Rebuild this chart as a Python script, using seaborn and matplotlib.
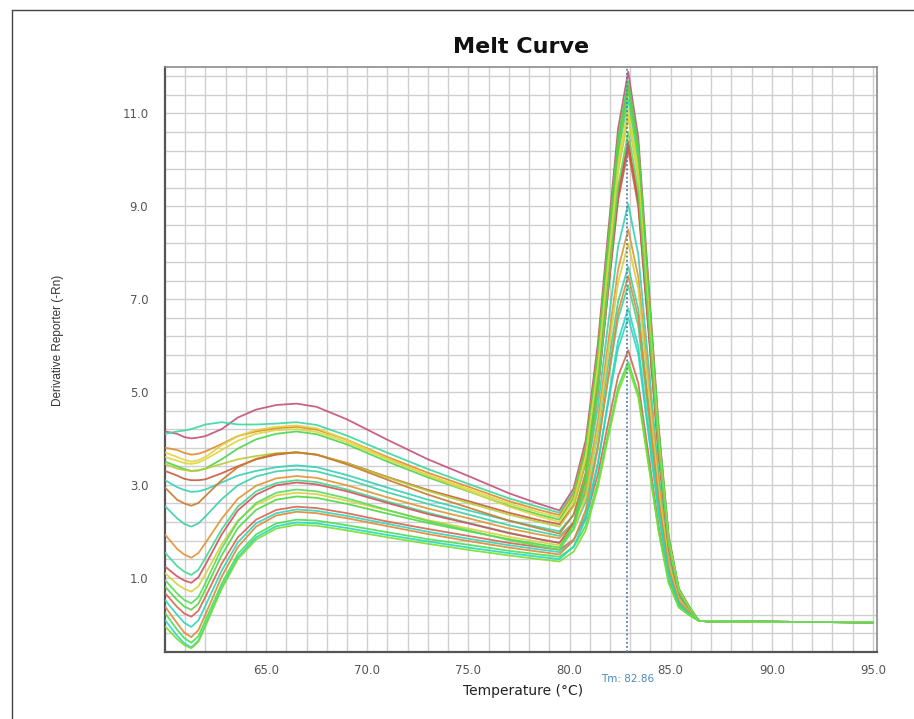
import matplotlib
matplotlib.use("Agg")
import matplotlib.pyplot as plt
from matplotlib.ticker import FixedLocator
from matplotlib.transforms import blended_transform_factory
from matplotlib.lines import Line2D
import numpy as np
import pandas as pd
import seaborn as sns

# ---------------- data ----------------
TEMPS = [60.0, 60.6, 60.95, 61.3, 61.65, 62.0, 62.8, 63.6, 64.5, 65.5, 66.5, 67.5, 69.0, 71.0, 73.0, 75.0, 77.0, 78.5, 79.5,
         80.2, 80.8, 81.4, 81.9, 82.4, 82.9, 83.4, 83.9, 84.4, 84.9, 85.4, 85.9, 86.4, 87.0, 90.0, 95.0]

c01 = [4.15, 4.10, 4.03, 4.00, 4.02, 4.05, 4.20, 4.45, 4.62, 4.72, 4.75, 4.68, 4.41, 3.97, 3.55, 3.19, 2.82, 2.59, 2.45,
       2.92, 3.96, 6.04, 8.40, 10.67, 11.90, 10.47, 7.38, 4.28, 1.90, 0.77, 0.39, 0.07, 0.06, 0.05, 0.04]
c02 = [4.10, 4.15, 4.17, 4.20, 4.25, 4.30, 4.35, 4.30, 4.30, 4.32, 4.35, 4.29, 4.06, 3.69, 3.34, 3.02, 2.71, 2.52, 2.40,
       2.85, 3.82, 5.78, 8.01, 10.14, 11.30, 9.94, 7.01, 4.07, 1.81, 0.73, 0.37, 0.07, 0.06, 0.05, 0.04]
c03 = [3.80, 3.75, 3.69, 3.65, 3.67, 3.72, 3.88, 4.05, 4.15, 4.22, 4.25, 4.19, 3.97, 3.60, 3.26, 2.96, 2.65, 2.46, 2.35,
       2.81, 3.83, 5.87, 8.18, 10.40, 11.60, 10.21, 7.19, 4.18, 1.86, 0.75, 0.38, 0.07, 0.06, 0.05, 0.04]
c04 = [3.60, 3.52, 3.47, 3.45, 3.48, 3.55, 3.75, 3.95, 4.10, 4.18, 4.20, 4.14, 3.92, 3.55, 3.21, 2.91, 2.60, 2.41, 2.30,
       2.74, 3.71, 5.64, 7.84, 9.96, 11.10, 9.77, 6.88, 4.00, 1.78, 0.72, 0.36, 0.07, 0.06, 0.05, 0.04]
c05 = [3.50, 3.40, 3.34, 3.30, 3.31, 3.35, 3.55, 3.78, 3.98, 4.10, 4.15, 4.09, 3.87, 3.50, 3.16, 2.86, 2.55, 2.36, 2.25,
       2.72, 3.76, 5.84, 8.20, 10.47, 11.70, 10.30, 7.25, 4.21, 1.87, 0.76, 0.38, 0.07, 0.06, 0.05, 0.04]
c06 = [3.30, 3.20, 3.13, 3.10, 3.10, 3.12, 3.25, 3.40, 3.55, 3.65, 3.70, 3.65, 3.47, 3.17, 2.89, 2.65, 2.40, 2.24, 2.15,
       2.56, 3.47, 5.29, 7.35, 9.33, 10.40, 9.15, 6.45, 3.74, 1.66, 0.68, 0.34, 0.07, 0.06, 0.05, 0.04]
c07 = [3.45, 3.35, 3.32, 3.30, 3.31, 3.35, 3.45, 3.55, 3.62, 3.68, 3.70, 3.65, 3.46, 3.16, 2.87, 2.61, 2.36, 2.20, 2.10,
       2.54, 3.51, 5.44, 7.64, 9.76, 10.90, 9.59, 6.76, 3.92, 1.74, 0.71, 0.36, 0.07, 0.06, 0.05, 0.04]
c08 = [3.10, 2.95, 2.89, 2.85, 2.86, 2.90, 3.05, 3.20, 3.30, 3.38, 3.42, 3.38, 3.21, 2.94, 2.68, 2.45, 2.23, 2.09, 2.00,
       2.35, 3.13, 4.68, 6.44, 8.13, 9.05, 7.96, 5.61, 3.26, 1.45, 0.59, 0.30, 0.07, 0.06, 0.05, 0.04]
c09 = [2.94, 2.68, 2.60, 2.55, 2.61, 2.76, 3.10, 3.38, 3.56, 3.67, 3.70, 3.65, 3.44, 3.11, 2.79, 2.51, 2.23, 2.06, 1.95,
       2.36, 3.27, 5.09, 7.15, 9.13, 10.20, 8.98, 6.32, 3.67, 1.63, 0.66, 0.34, 0.07, 0.06, 0.05, 0.04]
c10 = [2.54, 2.28, 2.16, 2.10, 2.17, 2.32, 2.69, 2.99, 3.18, 3.29, 3.33, 3.29, 3.12, 2.84, 2.59, 2.36, 2.13, 1.99, 1.90,
       2.19, 2.83, 4.10, 5.55, 6.95, 7.70, 6.78, 4.77, 2.77, 1.23, 0.50, 0.26, 0.07, 0.06, 0.05, 0.04]
c11 = [1.93, 1.62, 1.50, 1.43, 1.53, 1.75, 2.27, 2.70, 2.98, 3.14, 3.19, 3.15, 2.99, 2.73, 2.49, 2.28, 2.06, 1.93, 1.85,
       2.18, 2.91, 4.38, 6.04, 7.64, 8.50, 7.48, 5.27, 3.06, 1.36, 0.55, 0.29, 0.07, 0.06, 0.05, 0.04]
c12 = [1.54, 1.25, 1.13, 1.06, 1.17, 1.43, 2.04, 2.53, 2.86, 3.04, 3.10, 3.06, 2.90, 2.64, 2.40, 2.18, 1.97, 1.83, 1.75,
       2.03, 2.64, 3.86, 5.25, 6.58, 7.30, 6.42, 4.53, 2.63, 1.17, 0.47, 0.25, 0.07, 0.06, 0.05, 0.04]
c13 = [1.24, 1.03, 0.94, 0.89, 1.01, 1.28, 1.93, 2.45, 2.79, 2.99, 3.05, 3.01, 2.86, 2.61, 2.37, 2.17, 1.96, 1.83, 1.75,
       2.18, 3.12, 5.00, 7.14, 9.19, 10.30, 9.06, 6.39, 3.71, 1.65, 0.67, 0.34, 0.07, 0.06, 0.05, 0.04]
c14 = [1.10, 0.86, 0.76, 0.70, 0.81, 1.08, 1.72, 2.23, 2.57, 2.77, 2.83, 2.80, 2.66, 2.45, 2.24, 2.06, 1.88, 1.77, 1.70,
       2.03, 2.74, 4.17, 5.80, 7.36, 8.20, 7.22, 5.08, 2.95, 1.31, 0.53, 0.28, 0.07, 0.06, 0.05, 0.04]
c15 = [0.81, 0.52, 0.38, 0.31, 0.44, 0.75, 1.48, 2.07, 2.46, 2.68, 2.75, 2.72, 2.59, 2.38, 2.18, 2.00, 1.83, 1.72, 1.65,
       2.14, 3.23, 5.39, 7.86, 10.22, 11.50, 10.12, 7.13, 4.14, 1.84, 0.75, 0.38, 0.07, 0.06, 0.05, 0.04]
c16 = [0.67, 0.37, 0.23, 0.16, 0.29, 0.59, 1.30, 1.87, 2.25, 2.46, 2.53, 2.50, 2.39, 2.21, 2.05, 1.90, 1.75, 1.66, 1.60,
       1.82, 2.29, 3.23, 4.31, 5.34, 5.90, 5.19, 3.66, 2.12, 0.94, 0.38, 0.21, 0.07, 0.06, 0.05, 0.04]
c17 = [0.52, 0.20, 0.03, -0.06, 0.08, 0.40, 1.15, 1.76, 2.17, 2.39, 2.47, 2.44, 2.33, 2.16, 1.99, 1.84, 1.70, 1.61, 1.55,
       1.80, 2.36, 3.47, 4.73, 5.94, 6.60, 5.81, 4.09, 2.38, 1.06, 0.43, 0.23, 0.07, 0.06, 0.05, 0.04]
c18 = [0.38, 0.02, -0.18, -0.28, -0.13, 0.21, 1.02, 1.66, 2.10, 2.34, 2.42, 2.39, 2.28, 2.11, 1.94, 1.79, 1.65, 1.56, 1.50,
       1.80, 2.46, 3.78, 5.28, 6.72, 7.50, 6.60, 4.65, 2.70, 1.20, 0.49, 0.26, 0.07, 0.06, 0.05, 0.04]
c19 = [0.24, -0.12, -0.30, -0.40, -0.26, 0.08, 0.87, 1.51, 1.93, 2.17, 2.25, 2.23, 2.13, 1.98, 1.83, 1.71, 1.58, 1.50, 1.45,
       1.66, 2.12, 3.05, 4.10, 5.10, 5.65, 4.97, 3.50, 2.03, 0.90, 0.37, 0.20, 0.07, 0.06, 0.05, 0.04]
c20 = [0.09, -0.25, -0.41, -0.50, -0.36, -0.02, 0.79, 1.44, 1.87, 2.11, 2.19, 2.17, 2.07, 1.92, 1.78, 1.65, 1.53, 1.45, 1.40,
       1.67, 2.26, 3.45, 4.80, 6.10, 6.80, 5.98, 4.22, 2.45, 1.09, 0.44, 0.23, 0.07, 0.06, 0.05, 0.04]
c21 = [-0.05, -0.32, -0.45, -0.52, -0.38, -0.04, 0.76, 1.40, 1.82, 2.06, 2.14, 2.12, 2.02, 1.87, 1.73, 1.60, 1.48, 1.40, 1.35,
       1.56, 2.02, 2.95, 4.00, 5.00, 5.55, 4.88, 3.44, 2.00, 0.89, 0.36, 0.20, 0.07, 0.06, 0.05, 0.04]
c22 = [3.70, 3.60, 3.54, 3.50, 3.53, 3.60, 3.85, 4.05, 4.18, 4.25, 4.28, 4.22, 3.97, 3.57, 3.20, 2.87, 2.53, 2.32, 2.20,
       2.64, 3.61, 5.54, 7.74, 9.86, 11.00, 9.68, 6.82, 3.96, 1.76, 0.72, 0.36, 0.07, 0.06, 0.05, 0.04]
c23 = [0.95, 0.66, 0.52, 0.45, 0.58, 0.89, 1.63, 2.21, 2.61, 2.83, 2.90, 2.86, 2.71, 2.46, 2.22, 2.02, 1.81, 1.68, 1.60,
       2.05, 3.04, 5.02, 7.27, 9.43, 10.60, 9.33, 6.57, 3.82, 1.70, 0.69, 0.35, 0.07, 0.06, 0.05, 0.04]

CURVES = [c01, c02, c03, c04, c05, c06, c07, c08, c09, c10, c11, c12,
          c13, c14, c15, c16, c17, c18, c19, c20, c21, c22, c23]

TM_VALUE = 82.86
X_TICKS = [65, 70, 75, 80, 85, 90, 95]
X_TICK_LABELS = ["65.0", "70.0", "75.0", "80.0", "85.0", "90.0", "95.0"]
Y_TICKS = [1, 3, 5, 7, 9, 11]
Y_TICK_LABELS = ["1.0", "3.0", "5.0", "7.0", "9.0", "11.0"]

# ---------------- styles ----------------
COLORS = ['#c4507c', '#3cd6a0', '#e08c2c', '#dcd63c', '#4cd44c', '#c85a3c', '#b6cc34', '#34d0b6',
          '#c87a2c', '#3ccfa8', '#e09432', '#40d890', '#d4505c', '#d8d040', '#50d840', '#d86450',
          '#30d6bc', '#e08838', '#48e050', '#28d6c4', '#74e030', '#e2d444', '#58dc5c']

SAMPLES = [f"Well {i + 1:02d}" for i in range(len(CURVES))]
rows = []
for name, vals in zip(SAMPLES, CURVES):
    for t, v in zip(TEMPS, vals):
        rows.append((name, t, v))
df = pd.DataFrame(rows, columns=["sample", "temp", "deriv"])

sns.set_style("white")
plt.rcParams['font.family'] = ['DejaVu Sans']

W, H = 914, 719
fig = plt.figure(figsize=(W / 100, H / 100), dpi=100)
ax = fig.add_axes([165 / W, 1 - 652 / H, (877 - 165) / W, (652 - 67) / H])

sns.lineplot(data=df, x="temp", y="deriv", hue="sample",
             palette=dict(zip(SAMPLES, COLORS)), estimator=None, sort=False,
             legend=False, linewidth=1.3, alpha=0.9, ax=ax, zorder=3)

ax.set_xlim(60, 95.2)
ax.set_ylim(-0.6, 12.0)

ax.xaxis.set_major_locator(FixedLocator(X_TICKS))
ax.set_xticklabels(X_TICK_LABELS)
ax.yaxis.set_major_locator(FixedLocator(Y_TICKS))
ax.set_yticklabels(Y_TICK_LABELS)
ax.xaxis.set_minor_locator(FixedLocator(np.arange(61, 95.01, 1.0)))
ax.yaxis.set_minor_locator(FixedLocator(np.round(np.arange(-0.2, 11.81, 0.4), 2)))

ax.grid(True, which='both', color='#cfcfcf', linewidth=1.0, zorder=0)
ax.set_axisbelow(True)

ax.tick_params(axis='both', which='both', direction='out', color='#bdbdbd',
               labelcolor='#555555', labelsize=8.5, width=1.0)
ax.tick_params(axis='y', which='major', length=9, pad=3)
ax.tick_params(axis='y', which='minor', length=5)
ax.tick_params(axis='x', which='major', length=4, pad=5)
ax.tick_params(axis='x', which='minor', length=4)

ax.set_xlabel("")
ax.set_ylabel("")

for side in ['left', 'bottom']:
    ax.spines[side].set_color('#555555')
    ax.spines[side].set_linewidth(1.6)
for side in ['top', 'right']:
    ax.spines[side].set_color('#8a8a8a')
    ax.spines[side].set_linewidth(1.2)

# Tm marker line
ax.axvline(TM_VALUE, color='#4f7fb3', linestyle=(0, (1, 1.3)), linewidth=1.3, zorder=4)
trans = blended_transform_factory(ax.transData, fig.transFigure)
ax.text(TM_VALUE, 1 - 679 / H, f"Tm: {TM_VALUE:.2f}", transform=trans, ha='center', va='center',
        fontsize=7.5, color='#4a88bd')

# texts
fig.text(521 / W, 1 - 47 / H, "Melt Curve", ha='center', va='center',
         fontsize=16, fontweight='bold', color='#111111')
fig.text(523 / W, 1 - 691 / H, "Temperature (°C)", ha='center', va='center',
         fontsize=10, color='#222222')
fig.text(58 / W, 1 - 340 / H, "Derivative Reporter (-Rn)", ha='center', va='center',
         rotation=90, fontsize=8.5, color='#333333', family=['Liberation Sans'])

# outer frame (left & top edges)
fig.add_artist(Line2D([12 / W, 12 / W], [0, 1 - 10 / H], transform=fig.transFigure,
                      color='#444444', linewidth=1.0))
fig.add_artist(Line2D([12 / W, 1], [1 - 10 / H, 1 - 10 / H], transform=fig.transFigure,
                      color='#444444', linewidth=1.0))

fig.savefig("out.png", dpi=100, facecolor='white')
